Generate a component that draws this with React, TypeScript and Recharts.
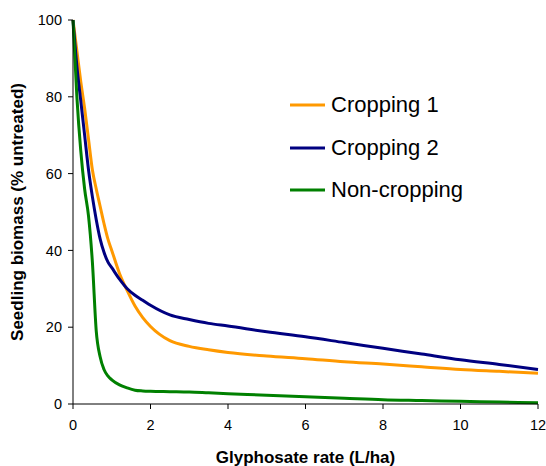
import React from "react";
import {
  LineChart,
  Line,
  XAxis,
  YAxis,
  Legend,
  Label,
} from "recharts";

const rates = [0, 0.1, 0.2, 0.3, 0.4, 0.5, 0.6, 0.7, 0.8, 0.9, 1.0, 1.2, 1.4, 1.6, 1.8, 2.0, 2.5, 3, 3.5, 4, 5, 6, 7, 8, 9, 10, 11, 12];
const cropping1 = [100, 92, 84, 77, 69, 61, 56, 51.5, 47, 43, 40, 34, 29.5, 25.5, 22.5, 20.2, 16.5, 15, 14.1, 13.4, 12.5, 11.8, 11, 10.4, 9.7, 9, 8.5, 8];
const cropping2 = [100, 88, 79, 70, 61, 54, 48, 43, 39.5, 37, 35.5, 32.5, 30, 28.3, 27, 25.7, 23.2, 22, 21, 20.3, 18.8, 17.5, 16, 14.5, 13, 11.5, 10.3, 9];
const nonCropping = [100, 80, 66, 56, 49, 37, 19, 12.3, 9, 7.3, 6.3, 5, 4.2, 3.6, 3.4, 3.3, 3.2, 3.1, 2.9, 2.7, 2.3, 1.9, 1.5, 1.1, 0.9, 0.7, 0.5, 0.3];
const xTicks = [0, 2, 4, 6, 8, 10, 12];
const yTicks = [0, 20, 40, 60, 80, 100];

const data = rates.map((r, i) => ({
  rate: r,
  c1: cropping1[i],
  c2: cropping2[i],
  nc: nonCropping[i],
}));

const FONT = "Liberation Sans, Arial, sans-serif";

const renderLegend = (props: any) => {
  const { payload } = props;
  return (
    <div>
      {payload.map((entry: any, i: number) => (
        <div key={`leg-${i}`} style={{ display: "flex", alignItems: "center", height: 42.5 }}>
          <svg width={41} height={6} style={{ marginRight: 1 }}>
            <line x1={1} y1={3} x2={36} y2={3} stroke={entry.color} strokeWidth={3} />
          </svg>
          <span style={{ fontFamily: FONT, fontSize: 22, color: "#000", lineHeight: "24px" }}>{entry.value}</span>
        </div>
      ))}
    </div>
  );
};

export default function App() {
  return (
    <div style={{ position: "absolute", left: 0, top: 0, background: "#fff" }}>
      <LineChart
        width={546}
        height={466}
        data={data}
        margin={{ top: 20, right: 8, bottom: 32, left: 13 }}
      >
        <XAxis
          dataKey="rate"
          type="number"
          domain={[0, 12]}
          ticks={xTicks}
          stroke="#000"
          tick={{ fill: "#000", fontSize: 14.5, fontFamily: FONT }}
          tickSize={5}
          tickMargin={11}
          height={30}
        >
          <Label
            value="Glyphosate rate (L/ha)"
            position="insideBottom"
            offset={-29}
            style={{ fontWeight: "bold", fontSize: 17, fontFamily: FONT, fill: "#000" }}
          />
        </XAxis>
        <YAxis
          type="number"
          domain={[0, 100]}
          ticks={yTicks}
          stroke="#000"
          tick={{ fill: "#000", fontSize: 14.5, fontFamily: FONT }}
          tickSize={5}
          tickMargin={6}
          width={60}
        >
          <Label
            value="Seedling biomass (% untreated)"
            angle={-90}
            position="insideLeft"
            offset={4}
            style={{ fontWeight: "bold", fontSize: 17, fontFamily: FONT, fill: "#000", textAnchor: "middle" }}
          />
        </YAxis>
        <Legend
          layout="vertical"
          verticalAlign="middle"
          align="center"
          content={renderLegend}
          wrapperStyle={{ left: 289, top: 84, width: 230 }}
        />
        <Line type="monotone" dataKey="c1" name="Cropping 1" stroke="#FF9900" strokeWidth={3} dot={false} isAnimationActive={false} />
        <Line type="monotone" dataKey="c2" name="Cropping 2" stroke="#000080" strokeWidth={3} dot={false} isAnimationActive={false} />
        <Line type="monotone" dataKey="nc" name="Non-cropping" stroke="#008000" strokeWidth={3} dot={false} isAnimationActive={false} />
      </LineChart>
    </div>
  );
}
